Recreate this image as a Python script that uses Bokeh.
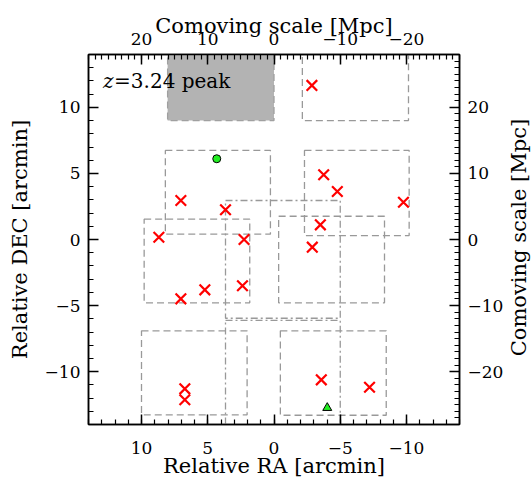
import math
from bokeh.plotting import figure
from bokeh.layouts import row
from bokeh.models import (Range1d, LinearAxis, SingleIntervalTicker,
                          CustomJSTickFormatter, Label)
from bokeh.core.properties import value
from bokeh.embed import file_html
from bokeh.resources import INLINE

# ---------------- data ----------------
# red crosses (Relative RA, Relative DEC) in arcmin
cross_ra = [-2.86, 7.03, 3.66, 8.69, 2.26, 7.03, 5.22, 2.38, -3.75, -4.78,
            -9.77, -3.50, -2.89, 6.73, 6.73, -3.57, -7.21]
cross_dec = [11.66, 2.95, 2.25, 0.17, 0.00, -4.49, -3.81, -3.50, 4.90, 3.63,
             2.82, 1.11, -0.58, -11.30, -12.13, -10.62, -11.18]

# green circle and green triangle
circle_ra = [4.32]
circle_dec = [6.11]
tri_ra = [-4.02]
tri_dec = [-12.74]

# dashed fields
field_left = [8.20, -2.30, 9.80, -0.35, 10.00, -0.48, -2.14]
field_right = [0.27, -10.20, 1.83, -8.34, 2.03, -8.47, -10.15]
field_top = [6.74, 6.74, 1.54, 1.76, -6.91, -6.91, 15.30]
field_bottom = [0.40, 0.30, -4.79, -4.79, -13.27, -13.30, 9.00]

# dash-dot fields
dd_left = [3.66, 3.66]
dd_right = [-5.00, -5.00]
dd_top = [2.95, -6.12]
dd_bottom = [-5.96, -15.00]

# grey (peak) field
peak_left = [8.03]
peak_right = [0.00]
peak_top = [15.30]
peak_bottom = [9.00]

label_text_z = "z"
label_text_rest = "=3.24 peak"
label_pos = (12.9, 12.0)

xtitle = "Relative RA [arcmin]"
ytitle = "Relative DEC [arcmin]"
x2title = "Comoving scale [Mpc]"
y2title = "Comoving scale [Mpc]"

FONT = "DejaVu Serif"
TITLE_SIZE = "21px"
SIDE_W = 26

p = figure(width=532 - SIDE_W, height=483,
           x_range=Range1d(14, -14), y_range=Range1d(-14, 14),
           output_backend="svg", toolbar_location=None,
           min_border_left=88, min_border_right=72 - SIDE_W,
           min_border_top=54, min_border_bottom=59,
           x_axis_label=xtitle, y_axis_label=ytitle)
p.extra_x_ranges = {"mpc": Range1d(28, -28)}
p.extra_y_ranges = {"mpc": Range1d(-28, 28)}
p.grid.visible = False
p.outline_line_color = "black"
p.outline_line_width = 1.5
p.background_fill_color = "white"
p.border_fill_color = "white"

fmt_code = "return (tick < 0 ? '\u2212' : '') + Math.abs(tick).toString();"


def style(ax, interval, nminor, standoff, lab_standoff):
    ax.ticker = SingleIntervalTicker(interval=interval, num_minor_ticks=nminor)
    ax.formatter = CustomJSTickFormatter(code=fmt_code)
    ax.major_tick_in = 10
    ax.major_tick_out = 0
    ax.minor_tick_in = 5
    ax.minor_tick_out = 0
    ax.major_tick_line_color = "black"
    ax.minor_tick_line_color = "black"
    ax.major_tick_line_width = 1.5
    ax.minor_tick_line_width = 1.2
    ax.axis_line_color = "black"
    ax.axis_line_width = 1.5
    ax.major_label_text_font = FONT
    ax.major_label_text_font_size = "17px"
    ax.major_label_text_color = "black"
    ax.axis_label_text_font = FONT
    ax.axis_label_text_font_size = TITLE_SIZE
    ax.axis_label_text_font_style = "normal"
    ax.axis_label_text_color = "black"
    ax.major_label_standoff = standoff
    ax.axis_label_standoff = lab_standoff


style(p.xaxis[0], 5, 5, 17, -3)
style(p.yaxis[0], 5, 5, 8, 10)

top_ax = LinearAxis(x_range_name="mpc", axis_label=x2title)
style(top_ax, 10, 10, 10, -8)
p.add_layout(top_ax, "above")

right_ax = LinearAxis(y_range_name="mpc")
style(right_ax, 10, 10, 8, 0)
p.add_layout(right_ax, "right")

# grey peak field
p.quad(left=peak_left, right=peak_right, top=peak_top, bottom=peak_bottom,
       fill_color="#b3b3b3", line_color="#a0a0a0", line_dash="7 4",
       line_width=1.3)

# dashed fields
p.quad(left=field_left, right=field_right, top=field_top, bottom=field_bottom,
       fill_color=None, line_color="#999999", line_dash="7 4", line_width=1.3)

# dash-dot fields
p.quad(left=dd_left, right=dd_right, top=dd_top, bottom=dd_bottom,
       fill_color=None, line_color="#999999", line_dash="7 3 2 3",
       line_width=1.3)

# markers
p.scatter(cross_ra, cross_dec, marker="x", size=15, line_color="red",
          line_width=2.2)
p.scatter(circle_ra, circle_dec, marker="circle", size=8,
          fill_color="#22ee22", line_color="black", line_width=1)
p.scatter(tri_ra, tri_dec, marker="triangle", size=9,
          fill_color="#22ee22", line_color="black", line_width=1)

p.add_layout(Label(x=label_pos[0], y=label_pos[1], text=label_text_z,
                   text_font=FONT, text_font_size="20px",
                   text_font_style="italic", text_color="black",
                   text_baseline="alphabetic"))
p.add_layout(Label(x=label_pos[0], y=label_pos[1], x_offset=11,
                   text=label_text_rest,
                   text_font=FONT, text_font_size="20px",
                   text_color="black", text_baseline="alphabetic"))

# narrow strip on the right holding the right-hand axis title,
# reading bottom-to-top like the left one
side = figure(width=SIDE_W, height=483,
              x_range=Range1d(0, 1), y_range=Range1d(0, 1),
              output_backend="svg", toolbar_location=None,
              x_axis_location=None, y_axis_location=None,
              min_border=0, min_border_left=0, min_border_right=0,
              min_border_top=0, min_border_bottom=0)
side.grid.visible = False
side.outline_line_color = None
side.background_fill_color = "white"
side.border_fill_color = "white"
side.text(x=[12 / SIDE_W], y=[(483 - 239) / 483], text=[y2title],
          angle=math.pi / 2, text_align="center", text_baseline="middle",
          text_font=value(FONT), text_font_size=TITLE_SIZE,
          text_color="black")

layout = row(p, side, spacing=0)

open("out.html", "w").write(file_html(layout, INLINE))
